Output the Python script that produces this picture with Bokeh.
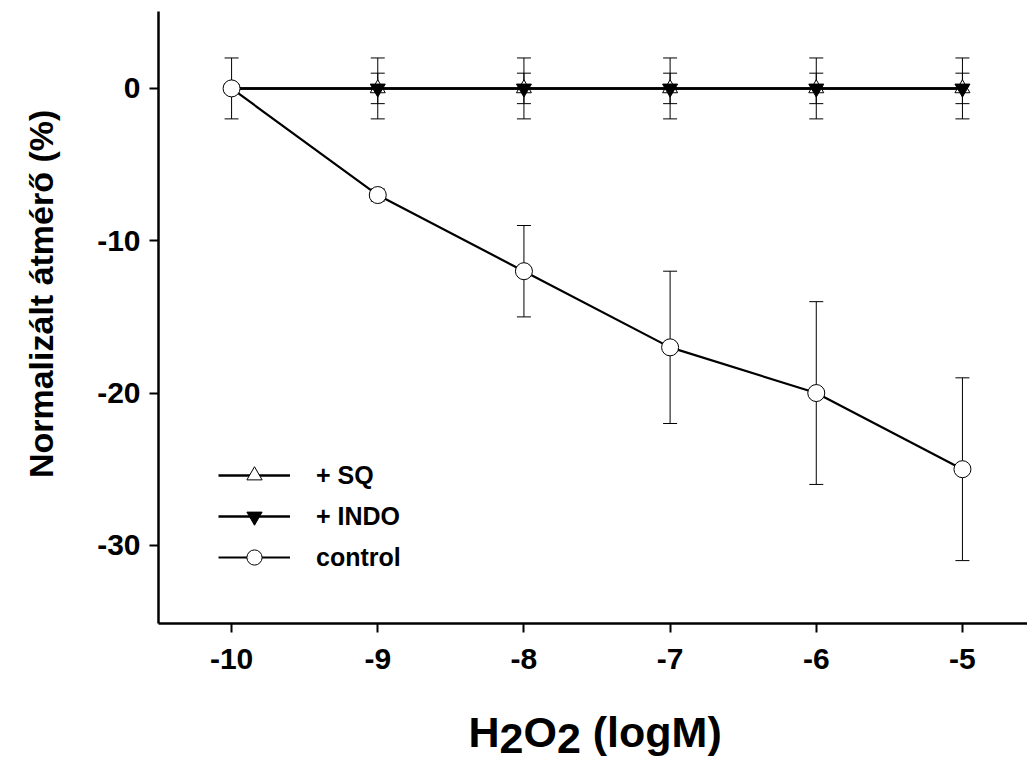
import numpy as np
from bokeh.plotting import figure
from bokeh.layouts import column
from bokeh.models import (ColumnDataSource, Whisker, TeeHead, Legend, LegendItem,
                          FixedTicker)
from bokeh.core.properties import value
from bokeh.embed import file_html
from bokeh.resources import INLINE

# ---- data ----
conc = [-10, -9, -8, -7, -6, -5]
sq_mean = [0, 0, 0, 0, 0, 0]
sq_err = [0, 2, 2, 2, 2, 2]
indo_mean = [0, 0, 0, 0, 0, 0]
indo_err = [0, 1, 1, 1, 1, 1]
ctrl_mean = [0, -7, -12, -17, -20, -25]
ctrl_err = [2, 0.4, 3, 5, 6, 6]
y_ticks = [0, -10, -20, -30]
x_ticks = [-10, -9, -8, -7, -6, -5]
series_names = ["+ SQ", "+ INDO", "control"]
y_title = "Normalizált átmérő (%)"
x_title_parts = ["H", "2", "O", "2", " ", "(logM)"]

FONT = "Liberation Sans"
W = 1027
H_MAIN = 690
H_XT = 70
LEFT = 158

p = figure(width=W, height=H_MAIN, output_backend="svg", toolbar_location=None,
           x_range=(-10.5, -4.555), y_range=(-35.13, 5.05),
           min_border_left=LEFT, min_border_right=0, min_border_top=11,
           min_border_bottom=H_MAIN - 623)
p.outline_line_color = None
p.grid.visible = False
p.background_fill_color = "white"
p.border_fill_color = "white"

for ax in (p.xaxis[0], p.yaxis[0]):
    ax.axis_line_width = 2.5
    ax.axis_line_color = "black"
    ax.major_tick_line_width = 2
    ax.major_tick_out = 9
    ax.major_tick_in = 0
    ax.minor_tick_line_color = None
    ax.major_label_text_font = FONT
    ax.major_label_text_font_style = "bold"
    ax.major_label_text_font_size = "30px"
    ax.major_label_text_color = "black"

p.xaxis.ticker = FixedTicker(ticks=x_ticks)
p.yaxis.ticker = FixedTicker(ticks=y_ticks)
p.xaxis.major_label_overrides = {t: str(t) for t in x_ticks}
p.yaxis.major_label_overrides = {t: str(t) for t in y_ticks}
p.xaxis.major_label_standoff = 16
p.yaxis.major_label_standoff = 9

# leading no-break spaces nudge the centred title slightly upward, as in the original
p.yaxis.axis_label = "\u00a0" * 5 + y_title
p.yaxis.axis_label_text_font = FONT
p.yaxis.axis_label_text_font_style = "bold"
p.yaxis.axis_label_text_font_size = "34px"
p.yaxis.axis_label_text_color = "black"
p.yaxis.axis_label_standoff = 34

def mk_src(mean, err):
    return ColumnDataSource(dict(x=conc, y=mean,
                                 lo=[m - e for m, e in zip(mean, err)],
                                 hi=[m + e for m, e in zip(mean, err)]))

src_sq = mk_src(sq_mean, sq_err)
src_indo = mk_src(indo_mean, indo_err)
src_ctrl = mk_src(ctrl_mean, ctrl_err)

for src in (src_sq, src_indo, src_ctrl):
    w = Whisker(source=src, base="x", lower="lo", upper="hi", dimension="height",
                line_color="black", line_width=1,
                upper_head=TeeHead(size=14, line_color="black", line_width=1),
                lower_head=TeeHead(size=14, line_color="black", line_width=1))
    p.add_layout(w)

l_sq = p.line("x", "y", source=src_sq, line_color="black", line_width=2.5)
m_sq = p.scatter("x", "y", source=src_sq, marker="triangle", size=15,
                 fill_color="white", line_color="black", line_width=1)
l_indo = p.line("x", "y", source=src_indo, line_color="black", line_width=2.5)
m_indo = p.scatter("x", "y", source=src_indo, marker="inverted_triangle", size=15,
                   fill_color="black", line_color="black", line_width=1)
l_ctrl = p.line("x", "y", source=src_ctrl, line_color="black", line_width=2.2)
m_ctrl = p.scatter("x", "y", source=src_ctrl, marker="circle", size=17,
                   fill_color="white", line_color="black", line_width=1)

legend = Legend(items=[
    LegendItem(label=series_names[0], renderers=[l_sq, m_sq]),
    LegendItem(label=series_names[1], renderers=[l_indo, m_indo]),
    LegendItem(label=series_names[2], renderers=[l_ctrl, m_ctrl]),
], location=(60, 47), orientation="vertical")
legend.glyph_width = 72
legend.glyph_height = 38
legend.label_height = 38
legend.spacing = 3
legend.padding = 0
legend.margin = 0
legend.label_standoff = 26
legend.label_text_font = FONT
legend.label_text_font_style = "bold"
legend.label_text_font_size = "25px"
legend.label_text_color = "black"
legend.border_line_color = None
legend.background_fill_alpha = 0
p.add_layout(legend, "center")

# ---- x-axis title strip: H2O2 (logM) with lowered 2s ----
fs = 43
em = {"H": 0.722, "2": 0.556, "O": 0.778, " ": 0.278, "(logM)": 2.999}
xs, ys, txts = [], [], []
cx = 468
for part in x_title_parts:
    if part.strip():
        xs.append(cx)
        ys.append(22 if part == "2" else 29)
        txts.append(part)
    cx += em[part] * fs

p2 = figure(width=W, height=H_XT, output_backend="svg", toolbar_location=None,
            x_range=(LEFT, W), y_range=(0, H_XT),
            min_border_left=LEFT, min_border_right=0, min_border_top=0,
            min_border_bottom=0,
            x_axis_location=None, y_axis_location=None)
p2.outline_line_color = None
p2.grid.visible = False
p2.text(x=xs, y=ys, text=txts, text_font=value(FONT), text_font_style="bold",
        text_font_size=f"{fs}px", text_color="black", text_align="left",
        text_baseline="alphabetic")

layout = column(p, p2, spacing=0)
open("out.html", "w").write(file_html(layout, INLINE))
